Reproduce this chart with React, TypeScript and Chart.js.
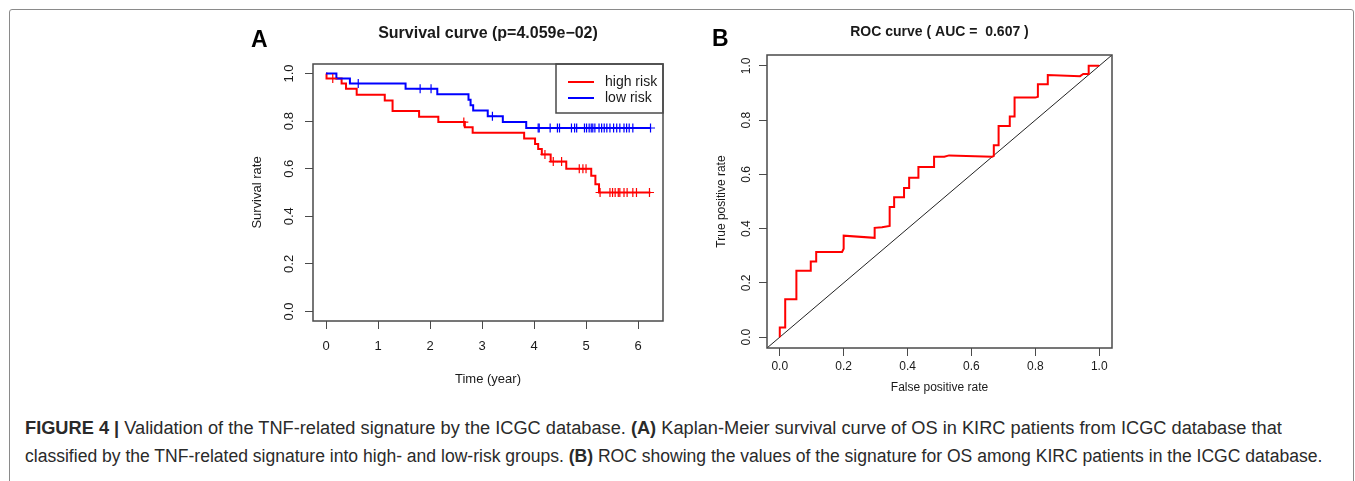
import React, { useEffect, useLayoutEffect, useRef } from "react";
import { Chart, registerables } from "chart.js";

Chart.register(...registerables);

const FONT = '"Liberation Sans", Arial, Helvetica, sans-serif';
const RED = "#ff0000";
const BLUE = "#0000ff";
const AXIS = "#4a4a4a";
const TEXT = "#1a1a1a";

// ---------- Panel A: Kaplan-Meier ----------
const timeTicks = [0, 1, 2, 3, 4, 5, 6];
const survTicks = [0, 0.2, 0.4, 0.6, 0.8, 1.0];
const seriesNames = ["high risk", "low risk"];

const highRiskTime = [0, 0.01, 0.3, 0.385, 0.59, 1.13, 1.28, 1.79, 2.16, 2.67, 2.82, 3.81, 4.02, 4.08, 4.15, 4.32, 4.62, 5.1, 5.18, 5.25, 6.24];
const highRiskSurv = [1.0, 0.979, 0.958, 0.936, 0.911, 0.887, 0.842, 0.818, 0.796, 0.774, 0.751, 0.727, 0.704, 0.683, 0.66, 0.63, 0.6, 0.57, 0.535, 0.5, 0.5];

const lowRiskTime = [0, 0.2, 0.46, 1.53, 2.14, 2.74, 2.78, 2.83, 3.11, 3.4, 3.85, 6.25];
const lowRiskSurv = [1.0, 0.979, 0.958, 0.936, 0.913, 0.89, 0.867, 0.845, 0.82, 0.796, 0.771, 0.771];

const highCensorTime = [0.13, 2.65, 4.21, 4.37, 4.53, 4.87, 4.94, 5.0, 5.27, 5.46, 5.51, 5.56, 5.62, 5.65, 5.73, 5.79, 5.9, 5.97, 6.22];
const highCensorSurv = [0.979, 0.796, 0.66, 0.63, 0.63, 0.6, 0.6, 0.6, 0.5, 0.5, 0.5, 0.5, 0.5, 0.5, 0.5, 0.5, 0.5, 0.5, 0.5];

const lowCensorTime = [0.62, 1.81, 2.02, 3.2, 4.08, 4.1, 4.31, 4.45, 4.49, 4.72, 4.78, 4.82, 4.97, 5.01, 5.06, 5.1, 5.13, 5.17, 5.25, 5.3, 5.35, 5.4, 5.46, 5.53, 5.59, 5.65, 5.73, 5.78, 5.83, 5.9, 6.24];
const lowCensorSurv = [0.958, 0.936, 0.936, 0.82, 0.771, 0.771, 0.771, 0.771, 0.771, 0.771, 0.771, 0.771, 0.771, 0.771, 0.771, 0.771, 0.771, 0.771, 0.771, 0.771, 0.771, 0.771, 0.771, 0.771, 0.771, 0.771, 0.771, 0.771, 0.771, 0.771, 0.771];

// ---------- Panel B: ROC ----------
const rocTicks = [0, 0.2, 0.4, 0.6, 0.8, 1.0];
const rocFpr = [0, 0, 0.017, 0.017, 0.052, 0.052, 0.097, 0.097, 0.114, 0.114, 0.195, 0.2, 0.2, 0.297, 0.297, 0.32, 0.344, 0.344, 0.358, 0.358, 0.389, 0.389, 0.405, 0.405, 0.434, 0.434, 0.483, 0.483, 0.515, 0.53, 0.665, 0.67, 0.67, 0.685, 0.685, 0.72, 0.72, 0.735, 0.735, 0.8, 0.808, 0.808, 0.839, 0.839, 0.94, 0.95, 0.967, 0.967, 1.0];
const rocTpr = [0, 0.036, 0.036, 0.14, 0.14, 0.245, 0.245, 0.279, 0.279, 0.314, 0.314, 0.326, 0.374, 0.366, 0.403, 0.405, 0.41, 0.48, 0.48, 0.516, 0.516, 0.55, 0.55, 0.588, 0.588, 0.627, 0.627, 0.665, 0.665, 0.67, 0.665, 0.668, 0.707, 0.707, 0.778, 0.778, 0.813, 0.813, 0.883, 0.883, 0.886, 0.932, 0.932, 0.966, 0.962, 0.97, 0.97, 1.0, 1.0];
const refLine = [-0.04, 1.04];

const pts = (xs: number[], ys: number[]) => xs.map((x, i) => ({ x, y: ys[i] }));

type LegendCfg = { x: number; y: number; w: number; h: number; lineX1: number; lineX2: number; textX: number; size: number; rows: { label: string; color: string; y: number }[] };
type Decor = {
  panel: string; panelX: number; panelY: number; panelSize: number;
  title: string; titleY: number; titleSize: number;
  xTitle: string; xTitleY: number; yTitle: string; yTitleX: number;
  yTickX: number; size: number; ticks: number[];
  legend?: LegendCfg;
};

function rotText(ctx: CanvasRenderingContext2D, s: string, x: number, y: number) {
  ctx.save();
  ctx.translate(x, y);
  ctx.rotate(-Math.PI / 2);
  ctx.textAlign = "center";
  ctx.textBaseline = "middle";
  ctx.fillText(s, 0, 0);
  ctx.restore();
}

function makeDecor(d: Decor) {
  return {
    id: "rDecor" + d.panel,
    afterDraw(chart: any) {
      const ctx: CanvasRenderingContext2D = chart.ctx;
      const a = chart.chartArea;
      const cx = (a.left + a.right) / 2;
      const cy = (a.top + a.bottom) / 2;
      ctx.save();
      ctx.strokeStyle = AXIS;
      ctx.lineWidth = 1.5;
      ctx.strokeRect(a.left, a.top, a.right - a.left, a.bottom - a.top);
      ctx.fillStyle = TEXT;
      ctx.font = `${d.size}px ${FONT}`;
      const ys = chart.scales.y;
      d.ticks.forEach((v) => rotText(ctx, v.toFixed(1), d.yTickX, ys.getPixelForValue(v)));
      rotText(ctx, d.yTitle, d.yTitleX, cy);
      ctx.textAlign = "center";
      ctx.textBaseline = "middle";
      ctx.fillText(d.xTitle, cx, d.xTitleY);
      ctx.font = `bold ${d.titleSize}px ${FONT}`;
      ctx.fillText(d.title, cx, d.titleY);
      ctx.font = `bold ${d.panelSize}px ${FONT}`;
      ctx.textAlign = "left";
      ctx.textBaseline = "alphabetic";
      ctx.fillStyle = "#000";
      ctx.fillText(d.panel, d.panelX, d.panelY);
      if (d.legend) {
        const L = d.legend;
        ctx.strokeStyle = AXIS;
        ctx.lineWidth = 1.5;
        ctx.strokeRect(L.x, L.y, L.w, L.h);
        ctx.font = `${L.size}px ${FONT}`;
        ctx.textBaseline = "middle";
        ctx.fillStyle = TEXT;
        L.rows.forEach((r) => {
          ctx.strokeStyle = r.color;
          ctx.lineWidth = 2;
          ctx.beginPath();
          ctx.moveTo(L.lineX1, r.y);
          ctx.lineTo(L.lineX2, r.y);
          ctx.stroke();
          ctx.fillText(r.label, L.textX, r.y);
        });
      }
      ctx.restore();
    },
  };
}

const tickGrid = { display: true, drawOnChartArea: false, drawTicks: true, tickLength: 8, color: AXIS, lineWidth: 1 };

function SurvivalChart() {
  const ref = useRef<HTMLCanvasElement>(null);
  useEffect(() => {
    const decor = makeDecor({
      panel: "A", panelX: 51, panelY: 47, panelSize: 23,
      title: "Survival curve (p=4.059e\u221202)", titleY: 34, titleSize: 16,
      xTitle: "Time (year)", xTitleY: 379, yTitle: "Survival rate", yTitleX: 57,
      yTickX: 89, size: 13, ticks: survTicks,
      legend: {
        x: 356, y: 64, w: 107, h: 49, lineX1: 368, lineX2: 394, textX: 405, size: 14,
        rows: [
          { label: seriesNames[0], color: RED, y: 82 },
          { label: seriesNames[1], color: BLUE, y: 98 },
        ],
      },
    });
    const chart = new Chart(ref.current!, {
      type: "line",
      data: {
        datasets: [
          { label: seriesNames[1] + " censored", data: pts(lowCensorTime, lowCensorSurv), showLine: false, pointStyle: "cross", pointRadius: 4.5, pointBorderColor: BLUE, pointBorderWidth: 1.2, borderColor: BLUE, order: 0 },
          { label: seriesNames[0] + " censored", data: pts(highCensorTime, highCensorSurv), showLine: false, pointStyle: "cross", pointRadius: 4.5, pointBorderColor: RED, pointBorderWidth: 1.2, borderColor: RED, order: 1 },
          { label: seriesNames[1], data: pts(lowRiskTime, lowRiskSurv), stepped: true, borderColor: BLUE, borderWidth: 2, pointRadius: 0, fill: false, order: 2 },
          { label: seriesNames[0], data: pts(highRiskTime, highRiskSurv), stepped: true, borderColor: RED, borderWidth: 2, pointRadius: 0, fill: false, order: 3 },
        ],
      } as any,
      options: {
        animation: false,
        responsive: false,
        devicePixelRatio: 1,
        events: [],
        layout: { padding: { left: 0, top: 64, right: 37, bottom: 0 } },
        plugins: { legend: { display: false }, tooltip: { enabled: false }, title: { display: false } },
        scales: {
          x: {
            type: "linear", min: -0.25, max: 6.48, bounds: "data",
            afterBuildTicks: (s: any) => { s.ticks = timeTicks.map((v) => ({ value: v })); },
            afterFit: (s: any) => { s.height = 79; s.paddingLeft = 0; s.paddingRight = 0; },
            grid: tickGrid, border: { display: false },
            ticks: { font: { family: FONT, size: 13 }, color: TEXT, padding: 10, maxRotation: 0, autoSkip: false, callback: (v: any) => String(v) },
          },
          y: {
            type: "linear", min: -0.04, max: 1.04, bounds: "data",
            afterBuildTicks: (s: any) => { s.ticks = survTicks.map((v) => ({ value: v })); },
            afterFit: (s: any) => { s.width = 113; },
            grid: tickGrid, border: { display: false },
            ticks: { display: false },
          },
        },
      } as any,
      plugins: [decor as any],
    });
    return () => chart.destroy();
  }, []);
  return <canvas ref={ref} width={500} height={400} style={{ position: "absolute", left: 200, top: 0, width: 500, height: 400 }} />;
}

function RocChart() {
  const ref = useRef<HTMLCanvasElement>(null);
  useEffect(() => {
    const decor = makeDecor({
      panel: "B", panelX: 32, panelY: 46, panelSize: 23,
      title: "ROC curve ( AUC =  0.607 )", titleY: 32, titleSize: 14,
      xTitle: "False positive rate", xTitleY: 388, yTitle: "True positive rate", yTitleX: 42,
      yTickX: 67, size: 12, ticks: rocTicks,
    });
    const chart = new Chart(ref.current!, {
      type: "line",
      data: {
        datasets: [
          { label: "ROC", data: pts(rocFpr, rocTpr), borderColor: RED, borderWidth: 2, pointRadius: 0, tension: 0, fill: false, order: 0 },
          { label: "reference", data: pts(refLine, refLine), borderColor: "#222", borderWidth: 1, pointRadius: 0, fill: false, order: 1 },
        ],
      } as any,
      options: {
        animation: false,
        responsive: false,
        devicePixelRatio: 1,
        events: [],
        layout: { padding: { left: 0, top: 55, right: 48, bottom: 0 } },
        plugins: { legend: { display: false }, tooltip: { enabled: false }, title: { display: false } },
        scales: {
          x: {
            type: "linear", min: -0.04, max: 1.04, bounds: "data",
            afterBuildTicks: (s: any) => { s.ticks = rocTicks.map((v) => ({ value: v })); },
            afterFit: (s: any) => { s.height = 52; s.paddingLeft = 0; s.paddingRight = 0; },
            grid: tickGrid, border: { display: false },
            ticks: { font: { family: FONT, size: 12 }, color: TEXT, padding: 3, maxRotation: 0, autoSkip: false, callback: (v: any) => Number(v).toFixed(1) },
          },
          y: {
            type: "linear", min: -0.04, max: 1.04, bounds: "data",
            afterBuildTicks: (s: any) => { s.ticks = rocTicks.map((v) => ({ value: v })); },
            afterFit: (s: any) => { s.width = 87; },
            grid: tickGrid, border: { display: false },
            ticks: { display: false },
          },
        },
      } as any,
      plugins: [decor as any],
    });
    return () => chart.destroy();
  }, []);
  return <canvas ref={ref} width={480} height={400} style={{ position: "absolute", left: 680, top: 0, width: 480, height: 400 }} />;
}

function CaptionLine({ top, target, children }: { top: number; target: number; children: React.ReactNode }) {
  const ref = useRef<HTMLDivElement>(null);
  useLayoutEffect(() => {
    const el = ref.current!;
    el.style.transform = "none";
    const w = el.scrollWidth;
    if (w > 0) el.style.transform = `scaleX(${target / w})`;
  }, [target]);
  return (
    <div
      ref={ref}
      style={{
        position: "absolute", left: 25, top, whiteSpace: "nowrap", transformOrigin: "0 0",
        fontFamily: '"Liberation Sans Narrow", "Liberation Sans", Arial, sans-serif', fontSize: 18, lineHeight: "20px", color: "#2a2a2a",
        display: "inline-block",
      }}
    >
      {children}
    </div>
  );
}

export default function App() {
  return (
    <div style={{ position: "absolute", left: 0, top: 0, width: 1355, height: 481, overflow: "hidden", background: "#fff" }}>
      <div style={{ position: "absolute", left: 9, top: 9, width: 1343, height: 520, border: "1.5px solid #8a8a8a", borderRadius: 3 }} />
      <SurvivalChart />
      <RocChart />
      <CaptionLine top={418} target={1257}>
        <b>FIGURE 4 |</b> Validation of the TNF-related signature by the ICGC database. <b>(A)</b> Kaplan-Meier survival curve of OS in KIRC patients from ICGC database that
      </CaptionLine>
      <CaptionLine top={446} target={1297}>
        classified by the TNF-related signature into high- and low-risk groups. <b>(B)</b> ROC showing the values of the signature for OS among KIRC patients in the ICGC database.
      </CaptionLine>
    </div>
  );
}
